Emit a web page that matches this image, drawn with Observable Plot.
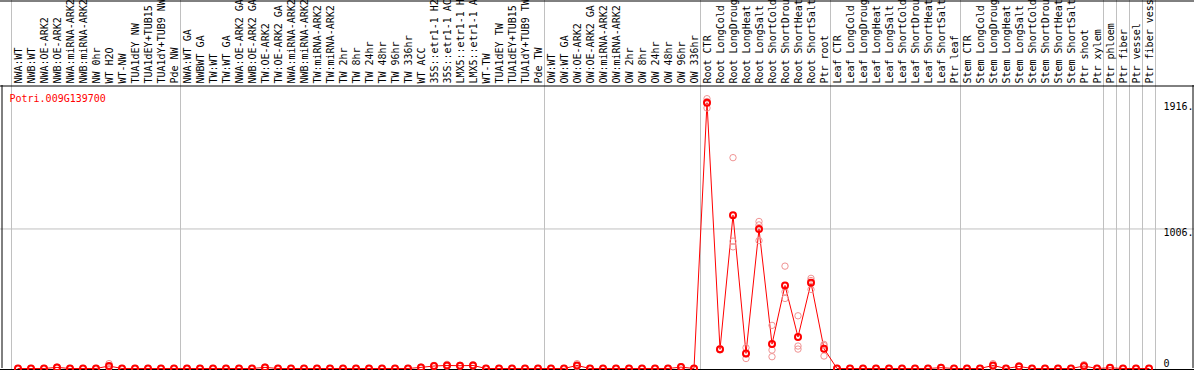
<!DOCTYPE html>
<html>
<head>
<meta charset="utf-8">
<script src="https://cdn.jsdelivr.net/npm/d3@7"></script>
<script src="https://cdn.jsdelivr.net/npm/@observablehq/plot@0.6"></script>
<style>
html, body { margin: 0; padding: 0; background: #fff; }
#chart svg { display: block; }
</style>
</head>
<body>
<div id="chart"></div>
<script>
const geneId = "Potri.009G139700";

const categories = [
  // group 1
  "NWA:WT","NWB:WT","NWA:OE-ARK2","NWB:OE-ARK2","NWA:miRNA-ARK2","NWB:miRNA-ARK2","NW 0hr","WT H2O","WT-NW","TUA1dEY NW","TUA1dEY+TUB15","TUA1dY+TUB9 NW","Pde NW",
  // group 2
  "NWA:WT GA","NWBWT GA","TW:WT","TW:WT GA","NWA:OE-ARK2 GA","NWB:OE-ARK2 GA","TW:OE-ARK2","TW:OE-ARK2 GA","NWA:miRNA-ARK2","NWB:miRNA-ARK2","TW:miRNA-ARK2","TW:miRNA-ARK2","TW 2hr","TW 8hr","TW 24hr","TW 48hr","TW 96hr","TW 336hr","WT ACC","35S::etr1-1 H2","35S::etr1-1 AC","LMX5::etr1-1 H","LMX5::etr1-1 A","WT-TW","TUA1dEY TW","TUA1dEY+TUB15","TUA1dY+TUB9 TW","Pde TW",
  // group 3
  "OW:WT","OW:WT GA","OW:OE-ARK2","OW:OE-ARK2 GA","OW:miRNA-ARK2","OW:miRNA-ARK2","OW 2hr","OW 8hr","OW 24hr","OW 48hr","OW 96hr","OW 336hr",
  // group 4
  "Root CTR","Root LongCold","Root LongDroug","Root LongHeat","Root LongSalt","Root ShortCold","Root ShortDrou","Root ShortHeat","Root ShortSalt","Ptr root",
  // group 5
  "Leaf CTR","Leaf LongCold","Leaf LongDroug","Leaf LongHeat","Leaf LongSalt","Leaf ShortCold","Leaf ShortDrou","Leaf ShortHeat","Leaf ShortSalt","Ptr leaf",
  // group 6
  "Stem CTR","Stem LongCold","Stem LongDroug","Stem LongHeat","Stem LongSalt","Stem ShortCold","Stem ShortDrou","Stem ShortHeat","Stem ShortSalt","Ptr shoot","Ptr xylem",
  // singles
  "Ptr phloem","Ptr fiber","Ptr vessel","Ptr fiber vess"
];

const groupSizes = [13, 28, 12, 10, 10, 11, 1, 1, 1, 1];

const means = [
  0,0,0,8,0,0,0,18,0,0,0,0,0,
  0,0,0,0,0,0,8,0,0,0,0,0,0,0,0,0,0,0,8,18,22,20,22,0,0,0,0,0,
  0,0,22,0,0,0,0,0,0,0,10,0,
  1916,138,1105,109,1005,176,599,227,618,143,
  0,0,0,0,0,0,0,0,6,0,
  0,0,22,0,15,0,0,0,0,18,0,
  5,0,0,0
];

const rep1 = [
  0,0,0,10,0,0,0,35,0,0,0,0,0,
  0,0,0,0,0,0,10,0,0,0,0,0,0,0,0,0,0,0,10,22,30,24,28,0,0,0,0,0,
  0,0,35,0,0,0,0,0,0,0,14,0,
  1945,142,1520,150,1060,311,738,380,650,174,
  0,0,0,0,0,0,0,0,8,0,
  0,0,35,0,20,0,0,0,0,28,0,
  7,0,0,0
];
const rep2 = [
  0,0,0,8,0,0,0,12,0,0,0,0,0,
  0,0,0,0,0,0,8,0,0,0,0,0,0,0,0,0,0,0,8,18,18,20,20,0,0,0,0,0,
  0,0,18,0,0,0,0,0,0,0,10,0,
  1925,138,918,105,1035,133,553,162,634,165,
  0,0,0,0,0,0,0,0,6,0,
  0,0,18,0,14,0,0,0,0,15,0,
  5,0,0,0
];
const rep3 = [
  0,0,0,6,0,0,0,7,0,0,0,0,0,
  0,0,0,0,0,0,6,0,0,0,0,0,0,0,0,0,0,0,6,14,18,16,18,0,0,0,0,0,
  0,0,13,0,0,0,0,0,0,0,6,0,
  1878,134,877,72,922,85,505,140,570,90,
  0,0,0,0,0,0,0,0,4,0,
  0,0,13,0,11,0,0,0,0,11,0,
  3,0,0,0
];

const yTicks = [1916, 1006, 0];
const yTickLabels = ["1916.", "1006.", "0"];
const gridValues = [1006];

// layout
const W = 1194, H = 370;
const headerH = 85, mb = 2, colW = 13, padL = 11, padR = 39;
const n = categories.length;
const yTop = 2653;                                   // value at the top edge of the svg
const yHeader = yTop * (1 - headerH / (H - mb));     // value at the header line
const xLeft = -0.5 - padL / colW;
const xRight = n - 0.5 + padR / colW;

const data = categories.map((label, i) => ({i, label, mean: means[i]}));
const repData = [rep1, rep2, rep3].flatMap(r => r.map((v, i) => ({i, v})));
const bounds = [-0.5];
{ let c = 0; for (const s of groupSizes) { c += s; bounds.push(c - 0.5); } }

const font = "'DejaVu Sans Mono', monospace";

const chart = Plot.plot({
  width: W,
  height: H,
  margin: 0,
  x: {domain: [xLeft, xRight], range: [0, W], axis: null},
  y: {domain: [0, yTop], range: [H - mb, 0], axis: null},
  style: {fontFamily: font, fontSize: "10px", background: "#fff", overflow: "hidden"},
  marks: [
    Plot.ruleY(gridValues, {stroke: "#c0c0c0", strokeWidth: 1}),
    Plot.ruleX(bounds, {stroke: "#c0c0c0", strokeWidth: 1}),
    Plot.ruleY([yHeader], {stroke: "#000", strokeWidth: 1, dy: 0.5}),
    Plot.ruleY([0], {stroke: "#000", strokeWidth: 1, dy: 1}),
    Plot.ruleY([yTop], {stroke: "#000", strokeWidth: 1, dy: 0.5}),
    Plot.ruleX([xLeft], {y1: 0, y2: yHeader, stroke: "#000", strokeWidth: 1, dx: 1.5}),
    Plot.ruleX([xRight], {y1: 0, y2: yHeader, stroke: "#000", strokeWidth: 1, dx: -1.5}),
    Plot.line(data, {x: "i", y: "mean", stroke: "#ff0000", strokeWidth: 1}),
    Plot.dot(repData, {x: "i", y: "v", r: 3.2, stroke: "#f09494", strokeWidth: 1, fill: "none"}),
    Plot.dot(data, {x: "i", y: "mean", r: 3, stroke: "#ff0000", strokeWidth: 2, fill: "none"}),
    Plot.text(data, {
      x: "i", text: "label", frameAnchor: "top", dy: 83, dx: 1,
      rotate: -90, textAnchor: "start", lineAnchor: "middle",
      fill: "#000", fontFamily: font, fontSize: 10
    }),
    Plot.text([geneId], {
      frameAnchor: "top-left", dx: 9, dy: 94, textAnchor: "start", lineAnchor: "top",
      fill: "#ff0000", fontFamily: font, fontSize: 10
    }),
    Plot.text(yTicks.filter(v => v > 0), {
      x: n - 0.5, y: d => d, text: d => yTickLabels[yTicks.indexOf(d)],
      dx: 8, textAnchor: "start", lineAnchor: "top",
      fill: "#000", fontFamily: font, fontSize: 10
    }),
    Plot.text(yTicks.filter(v => v === 0), {
      x: n - 0.5, y: d => d, text: d => yTickLabels[yTicks.indexOf(d)],
      dx: 8, dy: -2, textAnchor: "start", lineAnchor: "bottom",
      fill: "#000", fontFamily: font, fontSize: 10
    })
  ]
});
document.getElementById("chart").append(chart);
</script>
</body>
</html>
